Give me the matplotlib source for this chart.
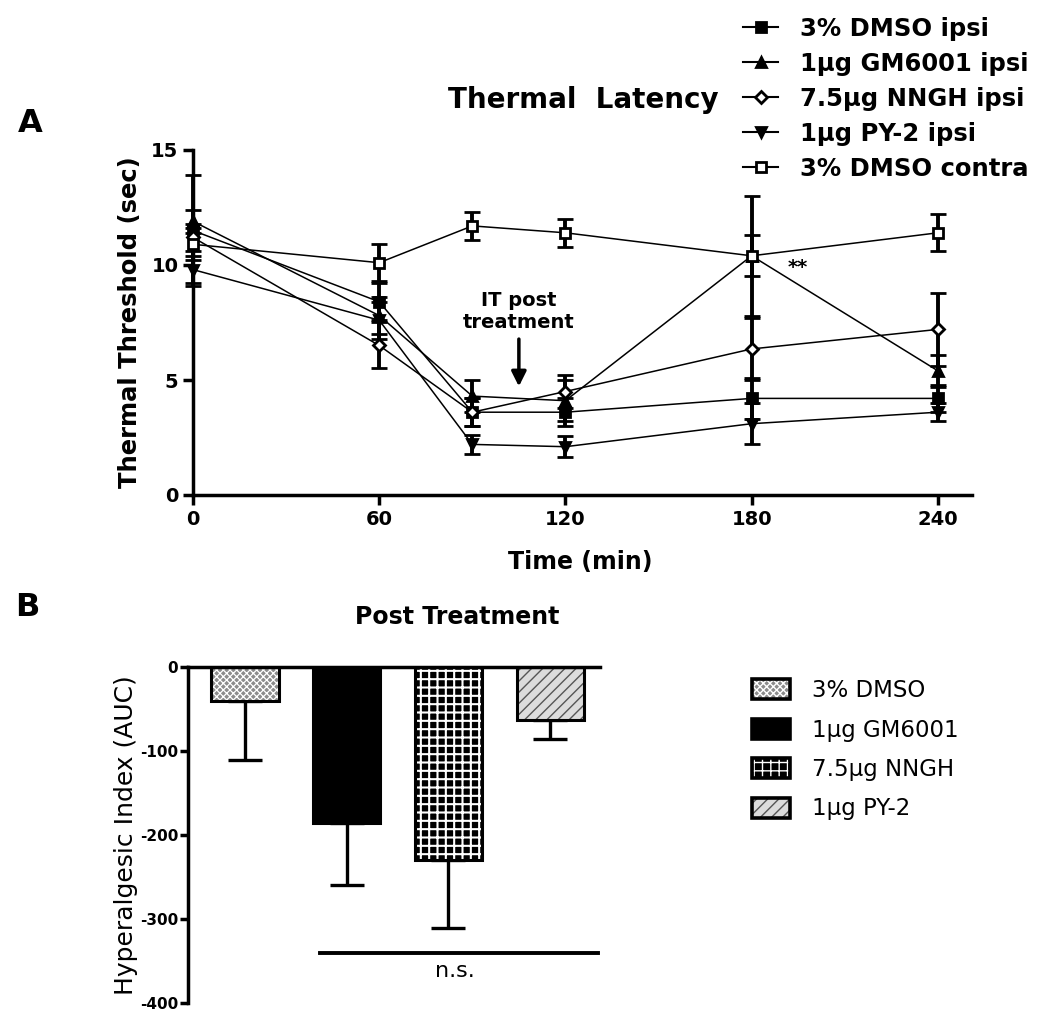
import matplotlib
matplotlib.use("Agg")
import matplotlib.pyplot as plt
from matplotlib.lines import Line2D
from matplotlib.patches import Patch
from matplotlib.legend_handler import HandlerTuple

plt.rcParams["axes.unicode_minus"] = False
plt.rcParams["font.family"] = "DejaVu Sans"

# --- Panel A data: thermal threshold (sec) over time ---
time_min = [0, 60, 90, 120, 180, 240]

dmso_ipsi = [11.5, 8.4, 3.6, 3.6, 4.2, 4.2]
dmso_ipsi_err = [2.4, 0.8, 0.6, 0.6, 0.9, 0.6]

gm6001_ipsi = [11.9, 7.8, 4.3, 4.1, 10.4, 5.4]
gm6001_ipsi_err = [0.5, 0.8, 0.7, 0.9, 2.6, 0.7]

nngh_ipsi = [11.2, 6.5, 3.6, 4.5, 6.35, 7.2]
nngh_ipsi_err = [0.6, 1.0, 0.6, 0.7, 1.35, 1.6]

py2_ipsi = [9.8, 7.6, 2.2, 2.1, 3.1, 3.6]
py2_ipsi_err = [0.6, 0.8, 0.4, 0.45, 0.9, 0.4]

dmso_contra = [10.9, 10.1, 11.7, 11.4, 10.4, 11.4]
dmso_contra_err = [0.7, 0.8, 0.6, 0.6, 0.9, 0.8]

series_labels = ["3% DMSO ipsi", "1\u00b5g GM6001 ipsi", "7.5\u00b5g NNGH ipsi",
                 "1\u00b5g PY-2 ipsi", "3% DMSO contra"]

# --- Panel B data: hyperalgesic index (AUC) ---
bar_labels = ["3% DMSO", "1\u00b5g GM6001", "7.5\u00b5g NNGH", "1\u00b5g PY-2"]
auc_values = [-41, -186, -230, -63]
auc_err = [70, 74, 81, 23]

W, H = 1050, 1030
fig = plt.figure(figsize=(10.5, 10.3), dpi=100)

# ---------------- Panel A ----------------
ax = fig.add_axes([193 / W, 1 - 495 / H, (972 - 193) / W, (495 - 150) / H])

styles = [
    (dmso_ipsi, dmso_ipsi_err, "s", "black"),
    (gm6001_ipsi, gm6001_ipsi_err, "^", "black"),
    (nngh_ipsi, nngh_ipsi_err, "D", "white"),
    (py2_ipsi, py2_ipsi_err, "v", "black"),
    (dmso_contra, dmso_contra_err, "s", "white"),
]
handles = []
for (vals, errs, mk, face), lab in zip(styles, series_labels):
    ms = 6.5 if mk == "D" else 7.5
    ax.errorbar(time_min, vals, yerr=errs, color="black", lw=1.1,
                marker=mk, ms=ms, mfc=face, mec="black", mew=2,
                elinewidth=2.8, capsize=6, capthick=2.8, clip_on=False, zorder=3)
    handles.append(Line2D([], [], color="black", lw=1.5, marker=mk, ms=ms - 0.5,
                          mfc=face, mec="black", mew=2))

ax.set_xlim(0, 251)
ax.set_ylim(0, 15)
ax.set_xticks([0, 60, 120, 180, 240])
ax.set_yticks([0, 5, 10, 15])
for s in ["top", "right"]:
    ax.spines[s].set_visible(False)
for s in ["left", "bottom"]:
    ax.spines[s].set_linewidth(2.5)
ax.tick_params(width=2.5, length=7, labelsize=14)
for t in ax.get_xticklabels() + ax.get_yticklabels():
    t.set_fontweight("bold")
ax.set_ylabel("Thermal Threshold (sec)", fontsize=17.5, fontweight="bold")
ax.yaxis.set_label_coords(-0.066, 0.5)
ax.set_xlabel("Time (min)", fontsize=17, fontweight="bold")
ax.xaxis.set_label_coords(0.497, -0.16)

ax.text(105, 8.0, "IT post\ntreatment", ha="center", va="center",
        fontsize=14, fontweight="bold", linespacing=1.2)
ax.annotate("", xy=(105, 4.6), xytext=(105, 6.9),
            arrowprops=dict(arrowstyle="-|>", color="black", lw=2.5,
                            mutation_scale=22))
ax.text(195, 9.9, "**", ha="center", va="center", fontsize=14, fontweight="bold")

fig.legend(handles, series_labels, loc="upper left",
           bbox_to_anchor=(743 / W, 1 - 17 / H), frameon=False,
           prop={"size": 17.5, "weight": "bold"}, handlelength=1.45,
           labelspacing=0.45, handletextpad=0.9, borderpad=0, borderaxespad=0)

fig.text(30 / W, 1 - 123 / H, "A", ha="center", va="center",
         fontsize=23, fontweight="bold")
fig.text(583 / W, 1 - 100 / H, "Thermal  Latency", ha="center", va="center",
         fontsize=20, fontweight="bold")

# ---------------- Panel B ----------------
bx = fig.add_axes([188 / W, 1 - 1003 / H, (600 - 188) / W, (1003 - 667) / H])
pos = list(range(len(auc_values)))
face_cols = ["#8c8c8c", "black", "black", "#dcdcdc"]
hatches = ["xxxxx", None, "++", "///"]
hatch_cols = ["white", "black", "white", "#555555"]
hatch_lw = [0.9, 1.0, 1.5, 1.0]

for i in pos:
    bx.bar(pos[i], auc_values[i], width=0.66, color=face_cols[i], lw=0, zorder=2)
    if hatches[i]:
        with plt.rc_context({"hatch.linewidth": hatch_lw[i]}):
            bx.bar(pos[i], auc_values[i], width=0.66, fill=False, hatch=hatches[i],
                   edgecolor=hatch_cols[i], lw=0, zorder=2)
    bx.bar(pos[i], auc_values[i], width=0.66, fill=False, edgecolor="black",
           lw=2.2, zorder=3)
bx.errorbar(pos, auc_values, yerr=[auc_err, [0] * len(auc_err)], fmt="none",
            ecolor="black", elinewidth=2.4, capsize=12, capthick=2.4, zorder=1)

bx.set_xlim(-0.56, 3.49)
bx.set_ylim(-400, 0)
bx.set_yticks([0, -100, -200, -300, -400])
bx.set_xticks([])
bx.spines["top"].set_visible(False)
bx.spines["right"].set_visible(False)
bx.spines["bottom"].set_position(("data", 0))
bx.spines["bottom"].set_linewidth(2.5)
bx.spines["bottom"].set_zorder(4)
bx.spines["left"].set_linewidth(2.5)
bx.tick_params(axis="y", width=2.5, length=5.5, pad=1.5, labelsize=11)
for t in bx.get_yticklabels():
    t.set_fontweight("bold")
bx.set_ylabel("Hyperalgesic Index (AUC)", fontsize=18)
bx.yaxis.set_label_coords(-0.122, 0.5)

bx.plot([0.74, 3.47], [-340, -340], color="black", lw=2.8, clip_on=False)
bx.text(2.06, -362, "n.s.", ha="center", va="center", fontsize=16)

bar_handles = []
for i in pos:
    parts = [Patch(facecolor=face_cols[i], lw=0)]
    if hatches[i]:
        with plt.rc_context({"hatch.linewidth": hatch_lw[i]}):
            parts.append(Patch(fill=False, hatch=hatches[i], edgecolor=hatch_cols[i], lw=0))
    parts.append(Patch(fill=False, edgecolor="black", lw=2.6))
    bar_handles.append(tuple(parts))
fig.legend(bar_handles, bar_labels, loc="upper left",
           bbox_to_anchor=(752 / W, 1 - 679 / H), frameon=False,
           prop={"size": 16.5}, handlelength=1.65, handleheight=0.95,
           labelspacing=0.72, handletextpad=0.95, borderpad=0, borderaxespad=0,
           handler_map={tuple: HandlerTuple(ndivide=1, pad=0)})

fig.text(27 / W, 1 - 607 / H, "B", ha="center", va="center",
         fontsize=23, fontweight="bold")
fig.text(457 / W, 1 - 617 / H, "Post Treatment", ha="center", va="center",
         fontsize=17, fontweight="bold")

fig.savefig("out.png", dpi=100)
